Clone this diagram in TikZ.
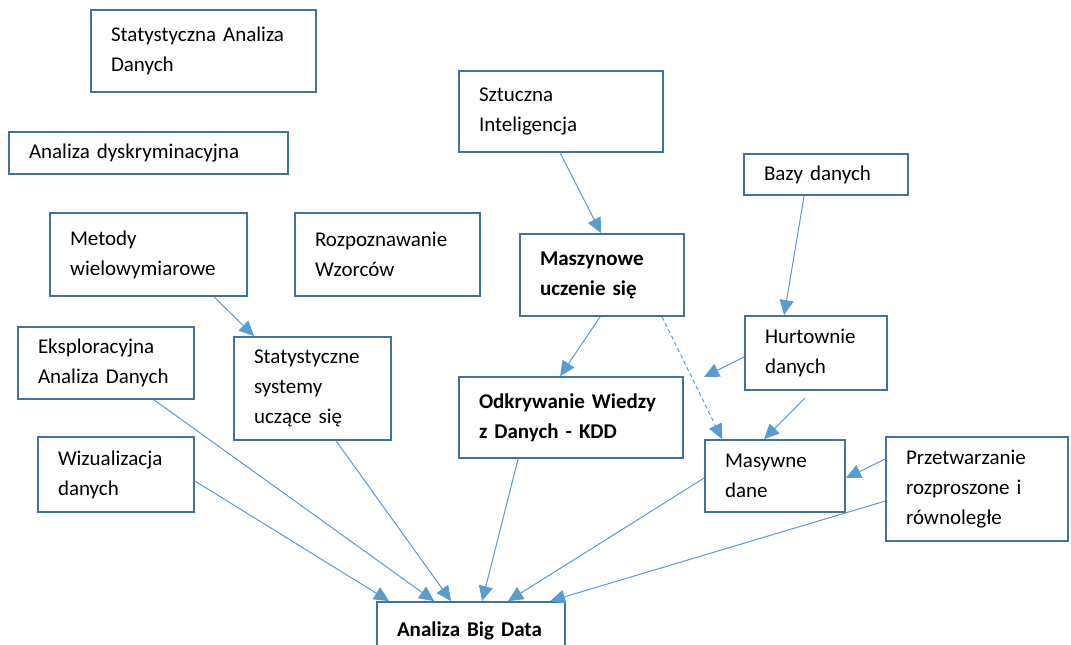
\documentclass[tikz,border=0pt]{standalone}
\usepackage{fontspec}
\setmainfont{Carlito}
\usetikzlibrary{arrows.meta,calc}
\definecolor{boxc}{RGB}{65,113,156}
\definecolor{arrc}{RGB}{91,155,213}
\tikzset{
  box/.style={draw=boxc, line width=1.8pt, rectangle, inner xsep=20pt, inner ysep=0pt, align=left, font=\fontsize{21}{30}\selectfont, text=black},
  bbox/.style={box, font=\fontsize{21}{30}\selectfont\bfseries},
  conn/.style={draw=arrc, line width=1pt, -{Triangle[length=15pt,width=14pt]}},
  dconn/.style={conn, dash pattern=on 4pt off 3pt}
}
\begin{document}
\begin{tikzpicture}[x=1pt,y=-1pt]
\useasboundingbox (0,0) rectangle (1071,645);
\fill[white] (0,0) rectangle (1071,645);
\node[box, text width=185pt, minimum height=82pt] (sad) at (203.5,51) {Statystyczna Analiza\\Danych};
\node[box, text width=239pt, minimum height=42pt] (ady) at (148.5,153) {Analiza dyskryminacyjna};
\node[box, text width=157pt, minimum height=83pt] (mw) at (148.5,254.5) {Metody\\wielowymiarowe};
\node[box, text width=145pt, minimum height=83pt] (rw) at (387.5,254.5) {Rozpoznawanie\\Wzorców};
\node[box, text width=164pt, minimum height=81pt] (si) at (561,111.5) {Sztuczna\\Inteligencja};
\node[box, text width=124pt, minimum height=41pt] (bd) at (826,174.5) {Bazy danych};
\node[bbox, text width=124pt, minimum height=82pt] (mu) at (602,275) {Maszynowe\\uczenie się};
\node[box, text width=102pt, minimum height=74pt] (hd) at (816,353) {Hurtownie\\danych};
\node[box, text width=136pt, minimum height=72pt] (ead) at (106,363) {Eksploracyjna\\Analiza Danych};
\node[box, text width=117pt, minimum height=103pt] (ssu) at (312.5,388.5) {Statystyczne\\systemy\\uczące się};
\node[bbox, text width=184pt, minimum height=81pt] (kdd) at (571,417.5) {Odkrywanie Wiedzy\\z Danych - KDD};
\node[box, text width=116pt, minimum height=75pt] (wd) at (116,474.5) {Wizualizacja\\danych};
\node[box, text width=100pt, minimum height=72pt] (md) at (775,476) {Masywne\\dane};
\node[box, text width=142pt, minimum height=104pt] (prz) at (977,489) {Przetwarzanie\\rozproszone i\\równoległe};
\node[bbox, text width=148pt, minimum height=58pt] (abd) at (471,631) {Analiza Big Data};
\coordinate (free) at (704,377);
\coordinate (hdb) at (805,398);
\draw[conn] ([xshift=165pt]mw.south west) -- ([xshift=21pt]ssu.north west);
\draw[conn] ([xshift=102pt]si.south west) -- ([xshift=82pt]mu.north west);
\draw[conn] ([xshift=61pt]bd.south west) -- ([xshift=40pt]hd.north west);
\draw[conn] ([xshift=81pt]mu.south west) -- ([xshift=102pt]kdd.north west);
\draw[dconn] ([xshift=143pt]mu.south west) -- ([xshift=18pt]md.north west);
\draw[conn] ([yshift=-4pt]hd.west) -- (free);
\draw[conn] (hdb) -- ([xshift=60pt]md.north west);
\draw[conn] ([yshift=-23pt]prz.north west) -- ([yshift=-2pt]md.east);
\draw[conn] ([yshift=-65pt]prz.north west) -- ([xshift=174pt]abd.north west);
\draw[conn] ([yshift=-2pt]md.west) -- ([xshift=132pt]abd.north west);
\draw[conn] ([xshift=60pt]kdd.south west) -- ([xshift=106pt]abd.north west);
\draw[conn] ([xshift=103pt]ssu.south west) -- ([xshift=75pt]abd.north west);
\draw[conn] ([xshift=137pt]ead.south west) -- ([xshift=58pt]abd.north west);
\draw[conn] ([yshift=-6.5pt]wd.east) -- ([xshift=13pt]abd.north west);
\end{tikzpicture}
\end{document}
